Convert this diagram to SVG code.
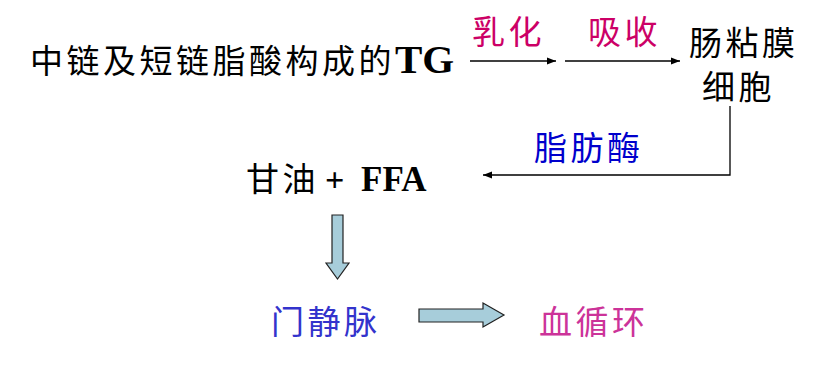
<svg xmlns="http://www.w3.org/2000/svg" width="825" height="365" viewBox="0 0 825 365">
<style>
.cjk{font-family:"Noto Sans CJK SC","Noto Sans",sans-serif;font-size:33px;letter-spacing:3.5px}
.lat{font-family:"Liberation Serif",serif;font-weight:bold;letter-spacing:0}
.line{stroke:#000;stroke-width:1.3;fill:none}
.block{fill:#A7CDDA;stroke:#222;stroke-width:1.2}
</style>
<defs>
<marker id="ah" viewBox="0 0 10 10" refX="10" refY="5" markerWidth="9" markerHeight="9" markerUnits="userSpaceOnUse" orient="auto">
<path d="M0,1 L10,5 L0,9 Z" fill="#000"/>
</marker>
</defs>
<rect width="825" height="365" fill="#fff"/>
<g id="tg"><text class="cjk" x="30" y="73" fill="#000">中链及短链脂酸构成的<tspan class="lat" font-size="41">TG</tspan></text></g>
<g id="cell"><text class="cjk" x="689" y="55" font-size="32" fill="#000">肠粘膜</text><text class="cjk" x="702" y="99" font-size="32" fill="#000">细胞</text></g>
<g id="glycerol"><text class="cjk" x="246" y="191" fill="#000">甘油</text><text class="lat" x="325" y="191" font-size="34" fill="#000" font-family="Liberation Sans">+</text><text class="lat" x="361" y="191" font-size="35" fill="#000">FFA</text></g>
<g id="portal"><text class="cjk" x="271" y="334" fill="#3333CC">门静脉</text></g>
<g id="blood"><text class="cjk" x="539" y="334" fill="#CC3399">血循环</text></g>
<g id="connectors">
<line class="line" x1="470" y1="61" x2="556" y2="61" marker-end="url(#ah)"/>
<line class="line" x1="565" y1="61" x2="680" y2="61" marker-end="url(#ah)"/>
<polyline class="line" points="730,106 730,175 483,175" marker-end="url(#ah)"/>
<text class="cjk" x="472" y="44" fill="#CC0066">乳化</text>
<text class="cjk" x="588" y="44" fill="#CC0066">吸收</text>
<text class="cjk" x="534" y="160" fill="#0000CC">脂肪酶</text>
<path class="block" d="M332,215 L343,215 L343,263 L349,263 L337.5,279 L326,263 L332,263 Z"/>
<path class="block" d="M419,309 L483,309 L483,303 L504,315 L483,327 L483,322 L419,322 Z"/>
</g>
</svg>
